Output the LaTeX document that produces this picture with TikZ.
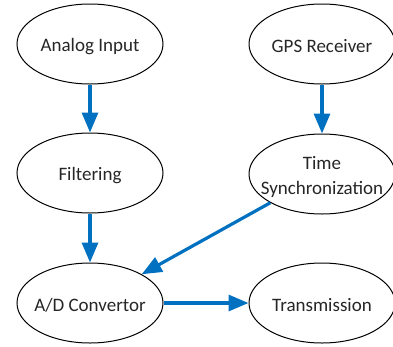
\documentclass[tikz,border=0pt]{standalone}
\usepackage{fontspec}
\setmainfont{Carlito}
\usetikzlibrary{arrows.meta,shapes.geometric}
\definecolor{flowblue}{RGB}{0,112,192}
% zero-width, slightly lowered text so every ellipse keeps the same fixed size
\newcommand{\zw}[1]{\makebox[0pt]{\raisebox{-2.5pt}[\height][\depth]{#1}}}
\tikzset{
  stage/.style={ellipse, draw=black, line width=1pt, minimum width=146pt,
    minimum height=80pt, inner sep=0pt, align=center,
    font=\fontsize{19}{25}\selectfont, text=black!85},
  flow/.style={draw=flowblue, line width=3.2pt,
    -{Triangle[length=20pt,width=16pt]}}
}
\begin{document}
\begin{tikzpicture}[x=1pt,y=-1pt]
\useasboundingbox (0,0) rectangle (393,346);
\node[stage] (analog) at (90,44) {\zw{Analog Input}};
\node[stage] (gps) at (322,44) {\zw{GPS Receiver}};
\node[stage] (filter) at (90,173) {\zw{Filtering}};
\node[stage] (sync) at (322,174) {\zw{Time}\\\zw{Synchronization}};
\node[stage] (adc) at (90,303) {\zw{A/D Convertor}};
\node[stage] (tx) at (322,303) {\zw{Transmission}};
\draw[flow] (analog) -- (filter);
\draw[flow] (gps) -- (sync);
\draw[flow] (filter) -- (adc);
\draw[flow] (sync) -- (adc);
\draw[flow] (adc) -- (tx);
\end{tikzpicture}
\end{document}
